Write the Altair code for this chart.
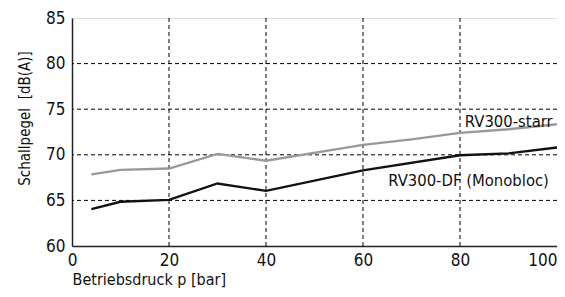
import altair as alt
import pandas as pd

# Data
pressure_starr = [4, 10, 20, 30, 40, 60, 70, 80, 90, 100]
level_starr = [67.85, 68.35, 68.5, 70.1, 69.35, 71.1, 71.7, 72.4, 72.8, 73.35]
pressure_df = [4, 10, 20, 30, 40, 60, 80, 90, 100]
level_df = [64.05, 64.85, 65.05, 66.85, 66.05, 68.3, 69.95, 70.15, 70.8]
series_names = ["RV300-starr", "RV300-DF (Monobloc)"]
x_ticks = [0, 20, 40, 60, 80, 100]
y_ticks = [60, 65, 70, 75, 80, 85]

FONT = "DejaVu Sans Condensed, Liberation Sans, sans-serif"

rows = []
for x, y in zip(pressure_starr, level_starr):
    rows.append({"p": x, "db": y, "serie": series_names[0]})
for x, y in zip(pressure_df, level_df):
    rows.append({"p": x, "db": y, "serie": series_names[1]})
df = pd.DataFrame(rows)

xscale = alt.Scale(domain=[0, 100], nice=False, zero=False)
yscale = alt.Scale(domain=[60, 85], nice=False, zero=False)

grid_x = alt.Chart(pd.DataFrame({"g": [20, 40, 60, 80]})).mark_rule(
    color="black", strokeWidth=1, strokeDash=[4, 3]
).encode(x=alt.X("g:Q", scale=xscale))
grid_y = alt.Chart(pd.DataFrame({"g": [65, 70, 75, 80]})).mark_rule(
    color="black", strokeWidth=1, strokeDash=[4, 3]
).encode(y=alt.Y("g:Q", scale=yscale))

lines = alt.Chart(df).mark_line(strokeWidth=2.3).encode(
    x=alt.X(
        "p:Q",
        scale=xscale,
        axis=alt.Axis(
            values=x_ticks,
            grid=False,
            ticks=False,
            domain=True,
            domainColor="#222",
            domainWidth=1.5,
            labelFont=FONT,
            labelFontSize=17,
            labelColor="#111",
            labelPadding=6,
            labelFlush=False,
            labelOverlap=False,
            labelAlign={
                "condition": {"test": "datum.value == 100", "value": "right"},
                "value": "center",
            },
            title="Betriebsdruck p [bar]",
            titleFont=FONT,
            titleFontSize=16,
            titleFontWeight="normal",
            titleColor="#111",
            titleAlign="left",
            titleAnchor="start",
            titleX=0,
            titleY=38,
            titleBaseline="alphabetic",
        ),
    ),
    y=alt.Y(
        "db:Q",
        scale=yscale,
        axis=alt.Axis(
            values=y_ticks,
            grid=False,
            ticks=False,
            domain=True,
            domainColor="#222",
            domainWidth=1.5,
            labelFont=FONT,
            labelFontSize=17,
            labelColor="#111",
            labelPadding=7,
            labelFlush=False,
            labelOverlap=False,
            title="Schallpegel\u00a0 [dB(A)]",
            titleFont=FONT,
            titleFontSize=15,
            titleFontWeight="normal",
            titleColor="#111",
            titleX=-43,
            titleY=100,
            titleAngle=270,
            titleAlign="center",
            titleBaseline="alphabetic",
        ),
    ),
    color=alt.Color(
        "serie:N",
        scale=alt.Scale(domain=series_names, range=["#999999", "#111111"]),
        legend=None,
    ),
)

ann = pd.DataFrame(
    {"label": series_names, "p": [81.0, 65.2], "db": [73.05, 66.6]}
)
labels = alt.Chart(ann).mark_text(
    align="left", baseline="alphabetic", font=FONT, fontSize=16.5, color="#111"
).encode(
    x=alt.X("p:Q", scale=xscale),
    y=alt.Y("db:Q", scale=yscale),
    text="label:N",
)

chart = (
    alt.layer(grid_x, grid_y, lines, labels)
    .properties(
        width=485,
        height=228,
        autosize=alt.AutoSizeParams(type="none"),
        padding={"left": 64, "top": 10, "right": 0, "bottom": 43},
    )
    .configure_view(stroke="#444", strokeWidth=1.5)
    .configure(background="white")
)

chart.save("out.html", embed_options={"renderer": "svg", "actions": False})
